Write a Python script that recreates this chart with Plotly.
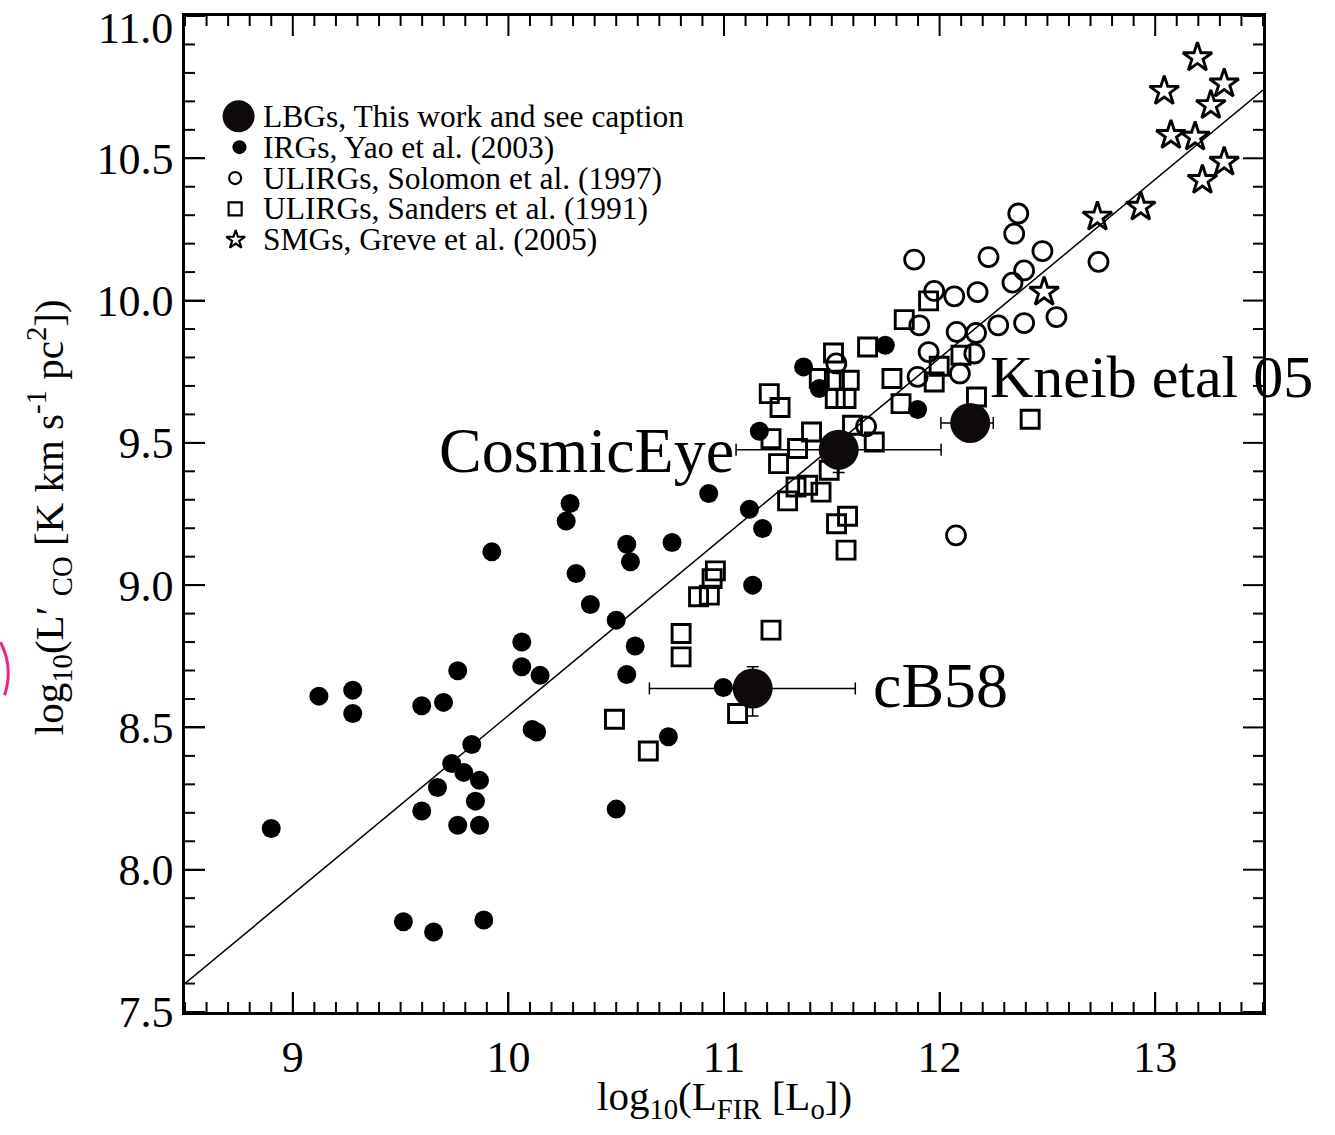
import numpy as np
import plotly.graph_objects as go

FONT = "Liberation Serif"

# ---- data: log10 L_FIR [Lsun] and log10 L'CO [K km/s pc^2] ----
# IRGs, Yao et al. (2003)
irg_lfir = [8.900, 9.121, 9.278, 9.278, 9.513, 9.598, 9.598, 9.653, 9.671, 9.699,
            9.737, 9.765, 9.765, 9.793, 9.830, 9.847, 9.866, 9.866, 9.886, 9.923,
            10.062, 10.062, 10.110, 10.131, 10.147, 10.268, 10.286, 10.314, 10.380, 10.500,
            10.500, 10.549, 10.549, 10.566, 10.588, 10.742, 10.759, 10.929, 10.997, 11.118,
            11.133, 11.164, 11.179, 11.369, 11.442, 11.748, 11.898]
irg_lco = [8.145, 8.610, 8.631, 8.549, 7.817, 8.576, 8.206, 7.781, 8.289, 8.588,
           8.373, 8.699, 8.156, 8.342, 8.440, 8.241, 8.314, 8.156, 7.823, 9.117,
           8.800, 8.713, 8.493, 8.484, 8.683, 9.225, 9.287, 9.041, 8.932, 8.877,
           8.213, 9.144, 8.686, 9.082, 8.786, 8.467, 9.150, 9.322, 8.640, 9.267,
           9.000, 9.541, 9.199, 9.767, 9.691, 9.843, 9.617]

# ULIRGs, Solomon et al. (1997)
sol_lfir = [12.365, 12.346, 11.882, 12.227, 12.477, 12.392, 12.338, 12.737, 11.975, 12.068,
            12.176, 11.906, 12.079, 12.169, 12.272, 12.392, 12.542, 11.949, 12.161, 11.898,
            12.094, 11.659, 11.521, 12.076]
sol_lco = [10.306, 10.235, 10.144, 10.153, 10.174, 10.106, 10.063, 10.136, 10.034, 10.015,
           10.030, 9.913, 9.890, 9.886, 9.913, 9.921, 9.942, 9.819, 9.814, 9.732,
           9.744, 9.558, 9.779, 9.175]

# ULIRGs, Sanders et al. (1991)
san_lfir = [11.949, 11.836, 11.508, 11.666, 11.442, 11.512, 11.581, 11.516, 11.566, 11.779,
            11.821, 11.975, 11.998, 12.099, 12.171, 12.420, 11.210, 11.260, 11.218, 11.406,
            11.341, 11.253, 11.596, 11.697, 11.488, 11.334, 11.388, 11.450, 11.295, 11.573,
            11.522, 11.566, 10.960, 10.945, 10.932, 10.882, 10.801, 10.801, 11.218, 10.492,
            10.649, 11.063]
san_lco = [9.999, 9.933, 9.816, 9.837, 9.726, 9.720, 9.720, 9.656, 9.656, 9.726,
           9.638, 9.714, 9.769, 9.808, 9.661, 9.583, 9.673, 9.624, 9.515, 9.538,
           9.480, 9.427, 9.562, 9.503, 9.404, 9.345, 9.351, 9.327, 9.296, 9.242,
           9.216, 9.123, 9.050, 9.023, 8.965, 8.959, 8.830, 8.748, 8.842, 8.529,
           8.417, 8.549]

# SMGs, Greve et al. (2005)
smg_lfir = [13.196, 13.042, 13.320, 13.258, 13.073, 13.185, 13.320, 13.219, 12.732, 12.933, 12.485]
smg_lco = [10.854, 10.736, 10.762, 10.686, 10.581, 10.575, 10.487, 10.423, 10.294, 10.329, 10.030]

# LBGs
lbg_names = ["CosmicEye", "Kneib etal 05", "cB58"]
lbg_lfir = [11.532, 12.142, 11.133]
lbg_lco = [9.476, 9.570, 8.637]
lbg_xerr_hi = [0.475, 0.107, 0.476]
lbg_xerr_lo = [0.476, 0.136, 0.479]
lbg_yerr_hi = [0.06, 0.0, 0.076]
lbg_yerr_lo = [0.08, 0.0, 0.097]

# linear relation drawn across the plot
fit_slope = 0.628
fit_intercept = 2.262

# axis ranges / ticks
x_range = [8.5, 13.5]
y_range = [7.5, 11.0]
x_ticks = [9, 10, 11, 12, 13]
y_ticks = [7.5, 8.0, 8.5, 9.0, 9.5, 10.0, 10.5, 11.0]
x_tick_labels = ["9", "10", "11", "12", "13"]
y_tick_labels = ["7.5", "8.0", "8.5", "9.0", "9.5", "10.0", "10.5", ""]
top_y_label = "11.0"
minor_step = 0.1

legend_labels = [
    "LBGs, This work and see caption",
    "IRGs, Yao et al. (2003)",
    "ULIRGs, Solomon et al. (1997)",
    "ULIRGs, Sanders et al. (1991)",
    "SMGs, Greve et al. (2005)",
]

fig = go.Figure()

fit_x = list(x_range)
fit_y = [fit_intercept + fit_slope * v for v in fit_x]
fig.add_trace(go.Scatter(x=fit_x, y=fit_y, mode="lines",
                         line=dict(color="black", width=1.5), showlegend=False,
                         hoverinfo="skip"))

fig.add_trace(go.Scatter(x=irg_lfir, y=irg_lco, mode="markers", name=legend_labels[1],
                         marker=dict(symbol="circle", size=19, color="black",
                                     line=dict(width=0)), showlegend=False))
fig.add_trace(go.Scatter(x=sol_lfir, y=sol_lco, mode="markers", name=legend_labels[2],
                         marker=dict(symbol="circle-open", size=19, color="black",
                                     line=dict(width=2.8, color="black")), showlegend=False))
fig.add_trace(go.Scatter(x=san_lfir, y=san_lco, mode="markers", name=legend_labels[3],
                         marker=dict(symbol="square-open", size=18, color="black",
                                     line=dict(width=2.9, color="black")), showlegend=False))
fig.add_trace(go.Scatter(x=smg_lfir, y=smg_lco, mode="markers", name=legend_labels[4],
                         marker=dict(symbol="star-open", size=22, color="black",
                                     line=dict(width=2.9, color="black")), showlegend=False))
fig.add_trace(go.Scatter(
    x=lbg_lfir, y=lbg_lco, mode="markers", name=legend_labels[0], text=lbg_names,
    marker=dict(symbol="circle", size=40, color="#0d090c", line=dict(width=0)),
    error_x=dict(type="data", symmetric=False, array=lbg_xerr_hi, arrayminus=lbg_xerr_lo,
                 color="black", thickness=1.5, width=6),
    error_y=dict(type="data", symmetric=False, array=lbg_yerr_hi, arrayminus=lbg_yerr_lo,
                 color="black", thickness=1.5, width=6),
    showlegend=False))

# hand-drawn key in the upper-left corner; positions given as fractions of the plot box
key_rows_frac = [0.8993, 0.8683, 0.8373, 0.8063, 0.7753]
key_marker_frac = [0.0497, 0.0505, 0.0465, 0.0465, 0.0470]
key_styles = [
    dict(symbol="circle", size=32, color="#0d090c", line=dict(width=0)),
    dict(symbol="circle", size=14, color="black", line=dict(width=0)),
    dict(symbol="circle-open", size=12, color="black", line=dict(width=2.2, color="black")),
    dict(symbol="square-open", size=13, color="black", line=dict(width=2.2, color="black")),
    dict(symbol="star-open", size=14, color="black", line=dict(width=2.2, color="black")),
]
x_span = x_range[1] - x_range[0]
y_span = y_range[1] - y_range[0]
for fx, fy, st in zip(key_marker_frac, key_rows_frac, key_styles):
    fig.add_trace(go.Scatter(x=[x_range[0] + fx * x_span], y=[y_range[0] + fy * y_span],
                             mode="markers", marker=st, showlegend=False, hoverinfo="skip",
                             cliponaxis=False))

annotations = []
for label, fy in zip(legend_labels, key_rows_frac):
    annotations.append(dict(x=0.0705, y=fy, xref="paper", yref="paper", text=label,
                            xanchor="left", yanchor="middle", showarrow=False,
                            font=dict(family=FONT, size=31.5, color="black")))

# top y tick label, nudged down so it stays on the page
annotations.append(dict(x=0, y=y_ticks[-1], xref="paper", yref="y", text=top_y_label,
                        xanchor="right", yanchor="middle", xshift=-10, yshift=-12,
                        showarrow=False, font=dict(family=FONT, size=44, color="black")))

# object labels
annotations += [
    dict(x=11.057, y=9.474, xref="x", yref="y", text=lbg_names[0], xanchor="right",
         yanchor="middle", showarrow=False, font=dict(family=FONT, size=64, color="black")),
    dict(x=12.225, y=9.730, xref="x", yref="y", text=lbg_names[1], xanchor="left",
         yanchor="middle", showarrow=False, font=dict(family=FONT, size=60, color="black")),
    dict(x=11.683, y=8.647, xref="x", yref="y", text=lbg_names[2], xanchor="left",
         yanchor="middle", showarrow=False, font=dict(family=FONT, size=64, color="black")),
]

# axis titles
annotations += [
    dict(x=0.5, y=-0.087, xref="paper", yref="paper",
         text="log<sub>10</sub>(L<sub>FIR</sub> [L<sub>o</sub>])",
         xanchor="center", yanchor="middle", showarrow=False,
         font=dict(family=FONT, size=41, color="black")),
    dict(x=-0.126, y=0.497, xref="paper", yref="paper",
         text="log<sub>10</sub>(L\u2032 <sub>CO</sub> [K km s<sup>-1</sup> pc<sup>2</sup>])",
         textangle=-90, xanchor="center", yanchor="middle", showarrow=False,
         font=dict(family=FONT, size=41, color="black")),
]

# ---- inward tick marks on all four sides of the frame ----
W, H = 1335, 1135
M = dict(l=185, r=72, t=16, b=123)
plot_w = W - M["l"] - M["r"]
plot_h = H - M["t"] - M["b"]
major_len, minor_len = 20, 10
tick_line = dict(color="black", width=2)

def minor_positions(lo, hi, majors):
    vals = np.round(np.arange(lo, hi + minor_step / 2, minor_step), 3)
    return [v for v in vals if not any(abs(v - m) < 1e-6 for m in majors)]

shapes = []
for xv, ln in [(v, major_len) for v in x_ticks] + \
              [(v, minor_len) for v in minor_positions(*x_range, x_ticks)]:
    f = ln / plot_h
    shapes.append(dict(type="line", xref="x", yref="paper", x0=xv, x1=xv, y0=0, y1=f,
                       line=tick_line, layer="above"))
    shapes.append(dict(type="line", xref="x", yref="paper", x0=xv, x1=xv, y0=1, y1=1 - f,
                       line=tick_line, layer="above"))
for yv, ln in [(v, major_len) for v in y_ticks] + \
              [(v, minor_len) for v in minor_positions(*y_range, y_ticks)]:
    f = ln / plot_w
    shapes.append(dict(type="line", xref="paper", yref="y", x0=0, x1=f, y0=yv, y1=yv,
                       line=tick_line, layer="above"))
    shapes.append(dict(type="line", xref="paper", yref="y", x0=1, x1=1 - f, y0=yv, y1=yv,
                       line=tick_line, layer="above"))

# small magenta pen stroke at the left page edge
shapes.append(dict(type="path", xref="paper", yref="paper",
                   path="M -0.1711,0.3712 Q -0.1590,0.3460 -0.1674,0.3180",
                   line=dict(color="#f0208e", width=3)))

axis_common = dict(
    showgrid=False, zeroline=False, showline=True, linewidth=2.5, linecolor="black",
    mirror=True, ticks="inside", ticklen=major_len, tickwidth=2, tickcolor="black",
    tickfont=dict(family=FONT, size=44, color="black"), automargin=False,
)

fig.update_layout(
    width=W, height=H,
    margin=M,
    paper_bgcolor="white", plot_bgcolor="white",
    xaxis=dict(range=x_range, tickmode="array", tickvals=x_ticks, ticktext=x_tick_labels,
               ticklabelstandoff=4, **axis_common),
    yaxis=dict(range=y_range, tickmode="array", tickvals=y_ticks, ticktext=y_tick_labels,
               **axis_common),
    annotations=annotations,
    shapes=shapes,
    showlegend=False,
)

fig.write_html("out.html")
